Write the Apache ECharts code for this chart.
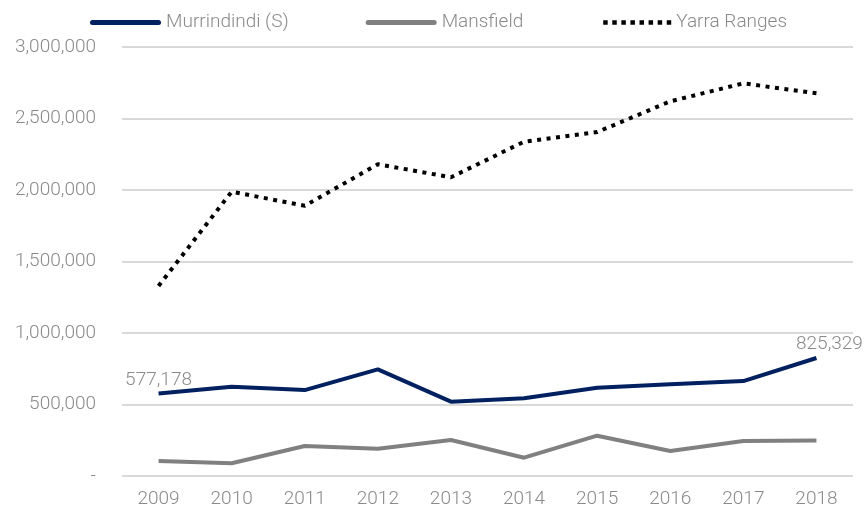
<!DOCTYPE html>
<html>
<head>
<meta charset="utf-8">
<script src="https://cdn.jsdelivr.net/npm/echarts@6/dist/echarts.min.js"></script>
<style>
html,body{margin:0;padding:0;background:#fff}
#main{width:868px;height:515px}
</style>
</head>
<body>
<div id="main"></div>
<script>
var years = ['2009','2010','2011','2012','2013','2014','2015','2016','2017','2018']
var murrindindi = [577178, 624000, 601000, 746000, 520000, 543000, 617000, 641000, 664000, 825329]
var mansfield = [105000, 89000, 210000, 191000, 252000, 128000, 282000, 175000, 245000, 248000]
var yarra = [1329000, 1988000, 1890000, 2180000, 2089000, 2338000, 2405000, 2620000, 2746000, 2676000]

var txt = '#8a8a8a'
var myChart = echarts.init(document.getElementById('main'))

function fmt(v){
	if(v===0) return '-'
	return v.toLocaleString('en-US')
}

// legend icons: rounded bar and a row of square dots
var barIcon = 'path://M2.5,0H68.5A2.5,2.5 0 0 1 68.5,5H2.5A2.5,2.5 0 0 1 2.5,0Z'
var dotIcon = 'path://M0,0.2'
for(var i=0;i<8;i++){
	var x0 = 3+i*9.1
	dotIcon += 'M'+x0+',0h4.5v4.5h-4.5Z'
}
dotIcon += 'M71,0.2'

var option = {
	backgroundColor:'#fff',
	textStyle:{fontFamily:'Roboto'},
	legend:{
		top:8,
		left:85,
		itemGap:77,
		itemWidth:71,
		itemHeight:5,
		textStyle:{color:txt,fontSize:19,fontFamily:'Roboto',fontWeight:300},
		data:[
			{name:'Murrindindi (S)',icon:barIcon},
			{name:'Mansfield',icon:barIcon},
			{name:'Yarra Ranges',icon:dotIcon}
		]
	},
	grid:{left:122,right:15,top:47,bottom:39,containLabel:false},
	xAxis:{
		type:'category',
		data:years,
		axisLine:{show:false},
		axisTick:{show:false},
		axisLabel:{color:txt,fontSize:19,margin:14,fontWeight:300}
	},
	yAxis:{
		type:'value',
		min:0,max:3000000,interval:500000,
		axisLabel:{color:txt,fontSize:19,margin:26,fontWeight:300,formatter:fmt},
		splitLine:{lineStyle:{color:'#d9d9d9',width:2}}
	},
	series:[
		{
			name:'Murrindindi (S)',type:'line',data:murrindindi,
			symbol:'circle',symbolSize:0,showSymbol:true,
			lineStyle:{color:'#002060',width:4},
			itemStyle:{color:'#002060'},
			label:{
				show:true,color:txt,fontSize:19,fontWeight:300,position:'top',distance:4,
				formatter:function(p){
					return (p.dataIndex===0||p.dataIndex===years.length-1)?fmt(p.value):''
				}
			},
			labelLayout:function(p){
				if(p.dataIndex===years.length-1) return {dx:13}
				return {}
			}
		},
		{
			name:'Mansfield',type:'line',data:mansfield,
			symbol:'none',
			lineStyle:{color:'#808080',width:4},
			itemStyle:{color:'#808080'}
		},
		{
			name:'Yarra Ranges',type:'line',data:yarra,
			symbol:'none',
			lineStyle:{color:'#000000',width:4,type:[4,5.5]},
			itemStyle:{color:'#000000'}
		}
	]
}
myChart.setOption(option)
</script>
</body>
</html>
